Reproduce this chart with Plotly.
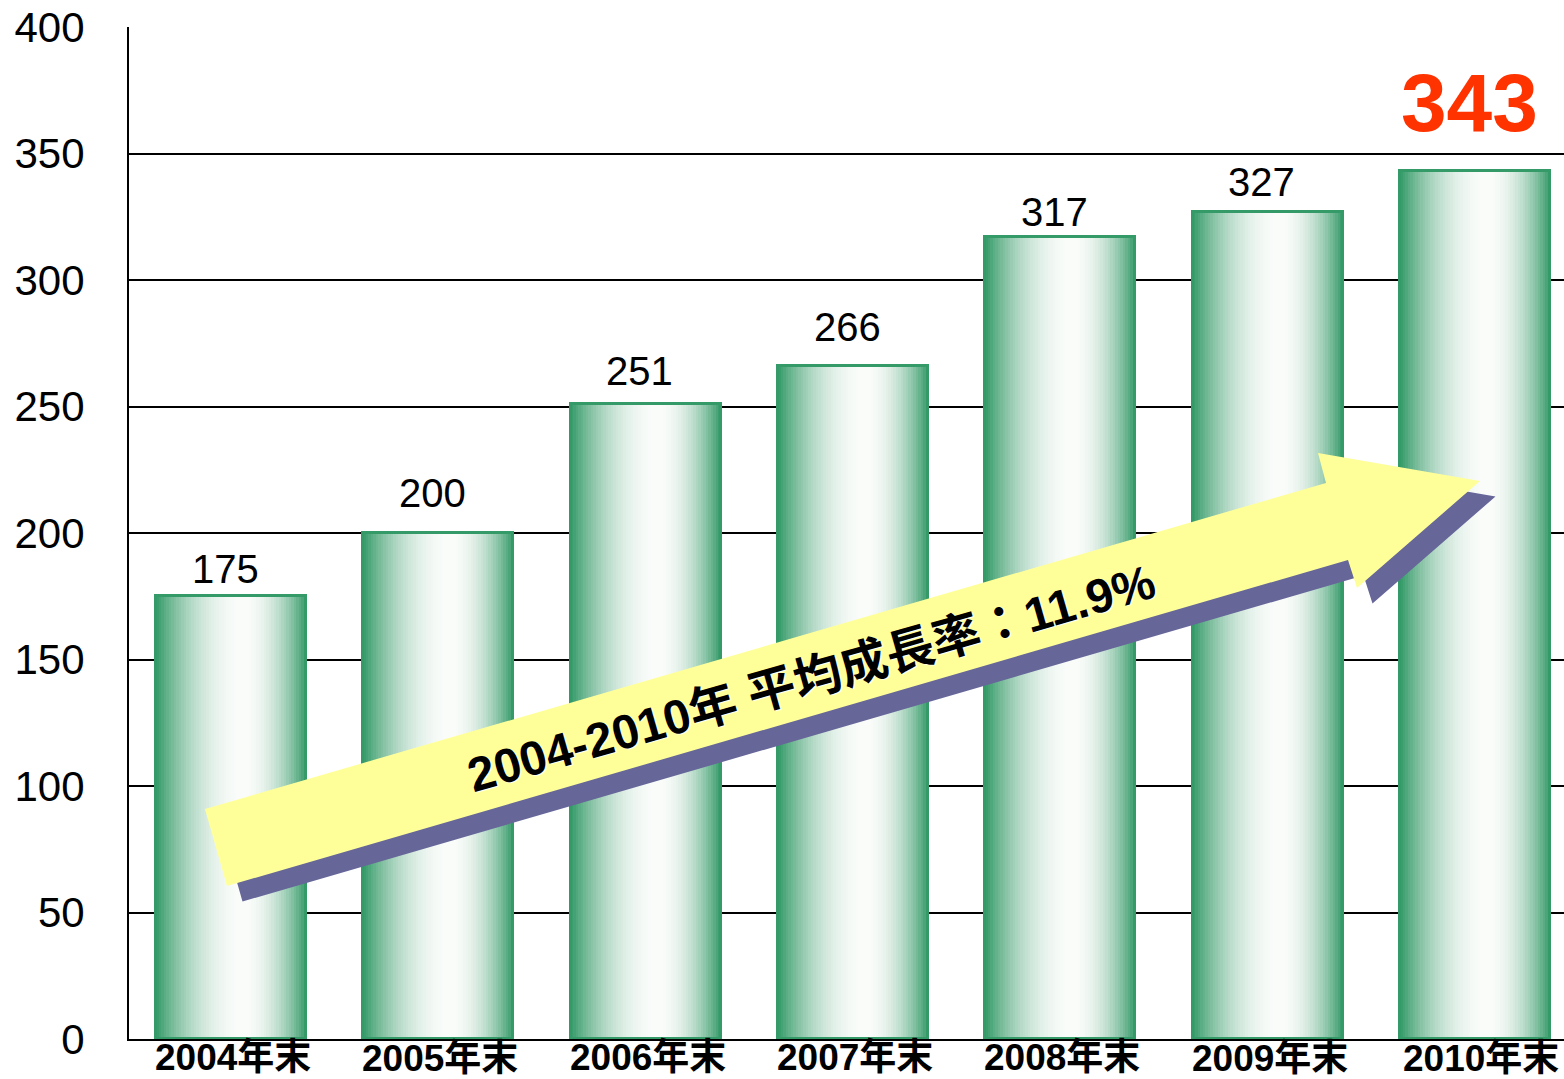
import plotly.graph_objects as go

# ---------------- data ----------------
categories = ["2004年末", "2005年末", "2006年末", "2007年末", "2008年末", "2009年末", "2010年末"]
values = [175, 200, 251, 266, 317, 327, 343]
y_ticks = [0, 50, 100, 150, 200, 250, 300, 350, 400]
arrow_text = "2004-2010年 平均成長率：11.9%"

# ---------------- styling ----------------
W, H = 1564, 1079
ML, MR, MT, MB = 129, 0, 27, 40
PW, PH = W - ML - MR, H - MT - MB
BAR_W = 0.7235
GREEN = (52, 154, 104)
WHITE = (250, 252, 250)
N_STRIPS = 60
PEAK = 0.58
FONT = "Liberation Sans, Arial, Noto Sans CJK TC"
label_gap_px = [11, 24, 17, 23, 9, 14, 38]
xlabel_shift_px = [-18, -19, -18, -18, -18, -19, -19]


def strip_color(t):
    s = t / PEAK if t < PEAK else (1 - t) / (1 - PEAK)
    s = max(0.0, min(1.0, s))
    f = 1 - (1 - s) ** 2
    c = [round(g + (w - g) * f) for g, w in zip(GREEN, WHITE)]
    return f"rgb({c[0]},{c[1]},{c[2]})"


fig = go.Figure()

sw = BAR_W / N_STRIPS
for i in range(N_STRIPS):
    t = (i + 0.5) / N_STRIPS
    fig.add_trace(go.Bar(
        x=categories, y=values,
        width=sw * 1.1, offset=-BAR_W / 2 + i * sw,
        marker=dict(color=strip_color(t), line=dict(width=0)),
        hoverinfo="skip", showlegend=False,
    ))

# outline band (top/bottom cap)
fig.add_trace(go.Bar(
    x=categories, y=values, width=BAR_W, offset=-BAR_W / 2,
    marker=dict(color="rgba(0,0,0,0)",
                line=dict(width=3, color="rgb(52,154,104)")),
    hoverinfo="skip", showlegend=False,
))

# value labels
for i, (c, v) in enumerate(zip(categories, values)):
    last = i == len(values) - 1
    fig.add_annotation(
        x=c, y=v, xref="x", yref="y",
        text=f"<b>{v}</b>" if last else str(v),
        showarrow=False, xanchor="center", yanchor="bottom",
        xshift=-6, yshift=label_gap_px[i] - (17 if last else 8),
        font=dict(family=FONT, size=82 if last else 40,
                  color="#FF3300" if last else "black"),
    )

# category labels
for i, c in enumerate(categories):
    fig.add_annotation(
        x=c, y=0, xref="x", yref="y",
        text=f"<b>{c}</b>", showarrow=False,
        xanchor="center", yanchor="middle",
        xshift=2 if i < len(categories) - 1 else 6,
        yshift=xlabel_shift_px[i],
        font=dict(family=FONT, size=37, color="black"),
    )


def px2paper(px, py):
    return (px - ML) / PW, (MT + PH - py) / PH


arrow_px = [(205, 809), (1326, 483), (1318, 453), (1480, 481),
            (1357, 588), (1348, 560), (227, 886)]


def path_for(pts, dx=0.0, dy=0.0):
    segs = []
    for k, (px, py) in enumerate(pts):
        x, y = px2paper(px + dx, py + dy)
        segs.append(("M" if k == 0 else "L") + f"{x:.5f},{y:.5f}")
    return " ".join(segs) + " Z"


fig.add_shape(type="path", xref="paper", yref="paper", layer="above",
              path=path_for(arrow_px, 15.5, 15.5),
              fillcolor="#666699", line=dict(width=0))
fig.add_shape(type="path", xref="paper", yref="paper", layer="above",
              path=path_for(arrow_px),
              fillcolor="#FFFF99", line=dict(width=0))

tx, ty = px2paper(811, 678)
fig.add_annotation(
    x=tx, y=ty, xref="paper", yref="paper",
    text=f"<b>{arrow_text}</b>", showarrow=False, textangle=-16.0,
    xanchor="center", yanchor="middle",
    font=dict(family=FONT, size=48, color="black",
              shadow="1px 1px 1px #ffffff"),
)

fig.update_layout(
    width=W, height=H,
    margin=dict(l=ML, r=MR, t=MT, b=MB, autoexpand=False),
    paper_bgcolor="white", plot_bgcolor="white",
    barmode="overlay", bargap=0,
    showlegend=False,
    xaxis=dict(
        type="category", range=[-0.492, 6.429],
        showgrid=False, showline=True, linecolor="black", linewidth=2,
        ticks="", showticklabels=False,
        automargin=False, fixedrange=True,
    ),
    yaxis=dict(
        range=[0, 400], tickvals=y_ticks,
        showgrid=True, gridcolor="black", gridwidth=2,
        zeroline=False,
        showline=True, linecolor="black", linewidth=2,
        ticks="", ticklabelstandoff=34,
        tickfont=dict(family=FONT, size=42, color="black"),
        automargin=False, fixedrange=True,
    ),
)

fig.write_html(
    "out.html",
    config={"displayModeBar": False},
    post_script="document.body.style.margin='0';document.body.style.overflow='hidden';",
)
